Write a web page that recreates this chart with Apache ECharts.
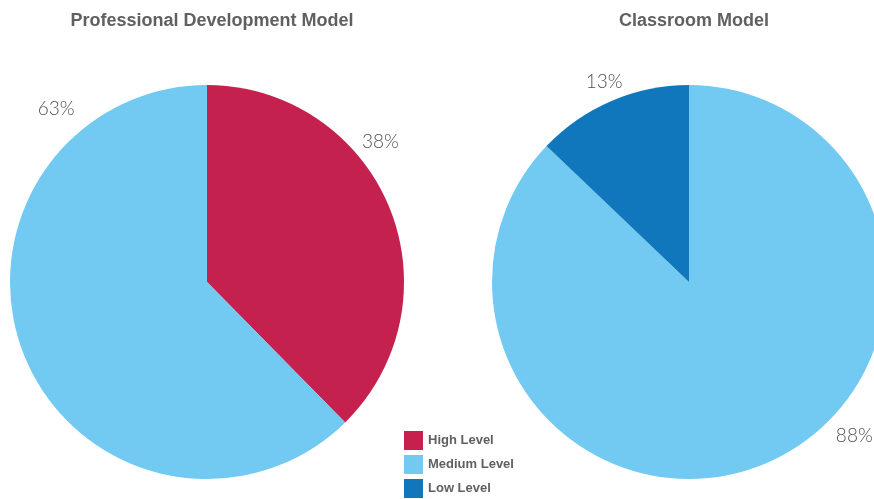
<!DOCTYPE html>
<html>
<head>
<meta charset="utf-8">
<script src="https://cdn.jsdelivr.net/npm/echarts@6/dist/echarts.min.js"></script>
<style>html,body{margin:0;padding:0;background:#fff;}#c{width:874px;height:499px;}</style>
</head>
<body>
<div id="c"></div>
<script>
var titles = ['Professional Development Model', 'Classroom Model'];
var levels = ['High Level', 'Medium Level', 'Low Level'];
var pdNames = ['High Level', 'Medium Level'];
var pdValues = [38, 63];
var crNames = ['Medium Level', 'Low Level'];
var crValues = [88, 13];

var colors = { 'High Level': '#C5214F', 'Medium Level': '#72C9F1', 'Low Level': '#1077BC' };
var titleFont = '"Liberation Sans Narrow", "Liberation Sans", Arial, sans-serif';
var labelFont = 'Lato, "Open Sans", sans-serif';

var R = 197;
var centers = [[207, 282], [689, 282]];
// label placement (angle clockwise from top, distance from center) per series
var labelPlace = [
  [[51, 223], [319, 230]],
  [[133, 226], [337, 217]]
];

function makeData(names, values) {
  return names.map(function (n, i) {
    return { name: n, value: values[i], itemStyle: { color: colors[n] } };
  });
}

function makeSeries(idx, names, values) {
  return {
    type: 'pie',
    center: centers[idx],
    radius: [0, R],
    startAngle: 90,
    clockwise: true,
    animation: false,
    silent: true,
    avoidLabelOverlap: false,
    data: makeData(names, values),
    label: {
      show: true,
      position: 'outside',
      formatter: '{c}%',
      fontFamily: labelFont,
      fontWeight: 300,
      fontSize: 19,
      color: '#505050'
    },
    labelLine: { show: false },
    labelLayout: function (p) {
      var pl = labelPlace[idx][p.dataIndex];
      var a = pl[0] * Math.PI / 180;
      return {
        x: centers[idx][0] + Math.sin(a) * pl[1],
        y: centers[idx][1] - Math.cos(a) * pl[1],
        align: 'center',
        verticalAlign: 'middle',
        hideOverlap: false
      };
    }
  };
}

var chart = echarts.init(document.getElementById('c'));
chart.setOption({
  backgroundColor: '#ffffff',
  title: [
    { text: titles[0], left: 207, top: 7, textAlign: 'center',
      textStyle: { fontFamily: titleFont, fontWeight: 'bold', fontSize: 18, color: '#5F6062' } },
    { text: titles[1], left: 689, top: 7, textAlign: 'center',
      textStyle: { fontFamily: titleFont, fontWeight: 'bold', fontSize: 18, color: '#5F6062' } }
  ],
  legend: {
    data: levels,
    orient: 'vertical',
    left: 404,
    top: 431,
    height: 80,
    padding: 0,
    icon: 'rect',
    itemWidth: 19,
    itemHeight: 19,
    itemGap: 5,
    selectedMode: false,
    textStyle: { fontFamily: titleFont, fontWeight: 'bold', fontSize: 13, color: '#5F6062' }
  },
  series: [
    makeSeries(0, pdNames, pdValues),
    makeSeries(1, crNames, crValues)
  ]
});
</script>
</body>
</html>
